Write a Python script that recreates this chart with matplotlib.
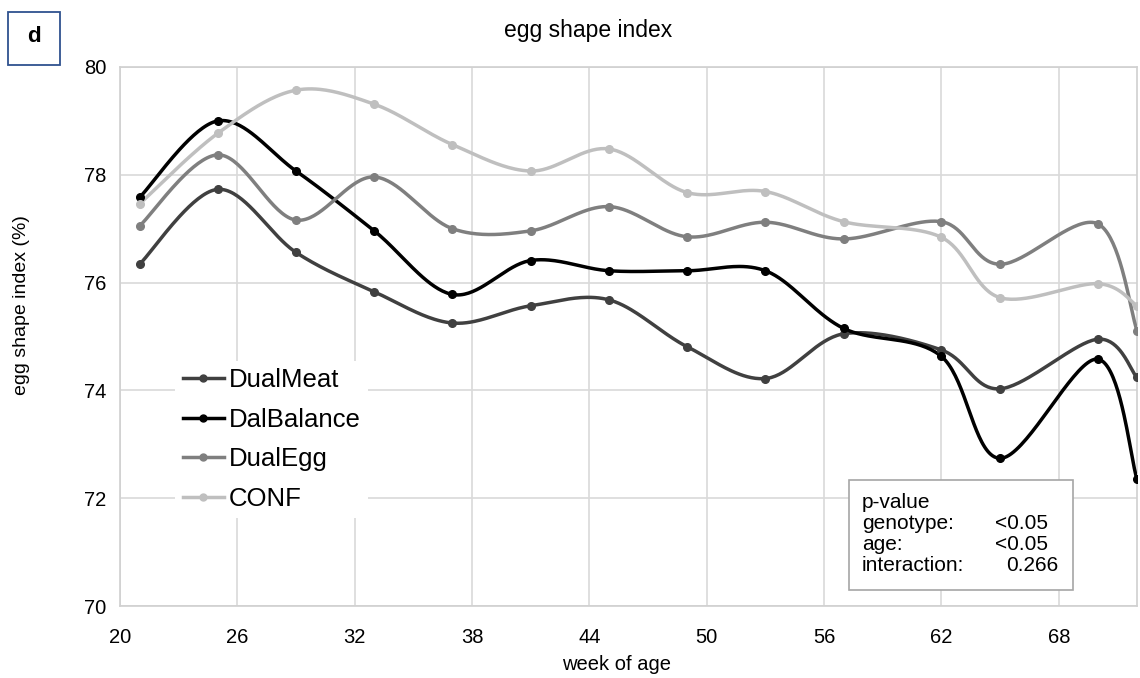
import numpy as np
import matplotlib
matplotlib.use('Agg')
import matplotlib.pyplot as plt
from matplotlib.lines import Line2D
from matplotlib.patches import Rectangle

plt.rcParams['font.family'] = ['Liberation Sans', 'DejaVu Sans']

# egg shape index (%) by week of age, per genotype
weeks = [21, 25, 29, 33, 37, 41, 45, 49, 53, 57, 62, 65, 70, 72]
dual_meat = [76.34, 77.73, 76.56, 75.83, 75.25, 75.57, 75.68, 74.81, 74.22, 75.05, 74.75, 74.03, 74.95, 74.24]
dal_balance = [77.58, 79.00, 78.07, 76.96, 75.78, 76.41, 76.22, 76.22, 76.22, 75.15, 74.63, 72.74, 74.58, 72.35]
dual_egg = [77.05, 78.37, 77.16, 77.96, 77.00, 76.96, 77.41, 76.85, 77.12, 76.81, 77.13, 76.34, 77.09, 75.11]
conf = [77.46, 78.77, 79.57, 79.31, 78.56, 78.07, 78.48, 77.67, 77.69, 77.13, 76.84, 75.72, 75.98, 75.57]

names = ['DualMeat', 'DalBalance', 'DualEgg', 'CONF']
colors = ['#404040', '#000000', '#7f7f7f', '#bfbfbf']
x_ticks = [20, 26, 32, 38, 44, 50, 56, 62, 68]
y_ticks = [70, 72, 74, 76, 78, 80]


def smooth(x, y, n=40):
    # Catmull-Rom style bezier through every point (like spreadsheet smoothed lines)
    p = np.column_stack([x, y]).astype(float)
    ext = np.vstack([p[0], p, p[-1]])
    xs, ys = [], []
    t = np.linspace(0, 1, n)[:, None]
    for i in range(len(p) - 1):
        p0, p1, p2, p3 = ext[i], ext[i + 1], ext[i + 2], ext[i + 3]
        c1 = p1 + (p2 - p0) / 6
        c2 = p2 - (p3 - p1) / 6
        b = ((1 - t) ** 3) * p1 + 3 * ((1 - t) ** 2) * t * c1 + 3 * (1 - t) * t ** 2 * c2 + t ** 3 * p2
        xs.append(b[:, 0])
        ys.append(b[:, 1])
    return np.concatenate(xs), np.concatenate(ys)


fig = plt.figure(figsize=(11.4, 6.78), dpi=100)
ax = fig.add_axes([120 / 1140, 1 - 606 / 678, 1017 / 1140, 539 / 678])

series = [dual_meat, dal_balance, dual_egg, conf]
for vals, c in zip(series, colors):
    sx, sy = smooth(weeks, vals)
    ax.plot(sx, sy, color=c, lw=2.5, solid_capstyle='round', zorder=3)
    ax.plot(weeks, vals, 'o', color=c, ms=5.5, zorder=4)

ax.set_xlim(20, 72)
ax.set_ylim(70, 80)
ax.set_xticks(x_ticks)
ax.set_yticks(y_ticks)
ax.grid(True, color='#d9d9d9', lw=1.2)
ax.set_axisbelow(True)
ax.tick_params(axis='x', length=0, labelsize=14.5, pad=16)
ax.tick_params(axis='y', length=0, labelsize=14.5, pad=10)
for s in ax.spines.values():
    s.set_color('#d0d0d0')
    s.set_linewidth(1.2)

handles = [Line2D([0], [0], color=c, lw=2.5, marker='o', ms=5) for c in colors]
leg = ax.legend(handles, names, loc='upper left', bbox_to_anchor=(0.054, 0.455),
                fontsize=18.5, frameon=True, framealpha=1, edgecolor='none',
                handlelength=1.6, handletextpad=0.2, labelspacing=0.6,
                borderpad=0.3, borderaxespad=0, numpoints=1)
leg.get_frame().set_boxstyle('square', pad=0)
leg.set_zorder(5)

# p-value box
box = Rectangle((849, 678 - 590), 224, 110, transform=None, fill=True,
                facecolor='white', edgecolor='#a6a6a6', lw=1.2, zorder=6)
fig.patches.append(box)
rows = [('p-value', ''), ('genotype:', '<0.05'), ('age:', '<0.05'), ('interaction:', '0.266')]
right_x = [0, 1048, 1048, 1058]
for i, (lab, val) in enumerate(rows):
    yy = 1 - (502 + i * 21.3) / 678
    fig.text(862 / 1140, yy, lab, fontsize=15, va='center', ha='left', zorder=7)
    if val:
        fig.text(right_x[i] / 1140, yy, val, fontsize=15, va='center', ha='right', zorder=7)

fig.text(588 / 1140, 1 - 31 / 678, 'egg shape index', fontsize=16.5, ha='center', va='center')
fig.text(617 / 1140, 1 - 665 / 678, 'week of age', fontsize=14.5, ha='center', va='center')
fig.text(22 / 1140, 1 - 305 / 678, 'egg shape index (%)', fontsize=14, ha='center',
         va='center', rotation=90)

# panel letter
fig.patches.append(Rectangle((8, 678 - 65), 52, 53, transform=None, fill=False,
                             edgecolor='#2f528f', lw=1.3))
fig.text(34 / 1140, 1 - 36 / 678, 'd', fontsize=16, fontweight='bold', ha='center', va='center')

fig.savefig('out.png', dpi=100)
